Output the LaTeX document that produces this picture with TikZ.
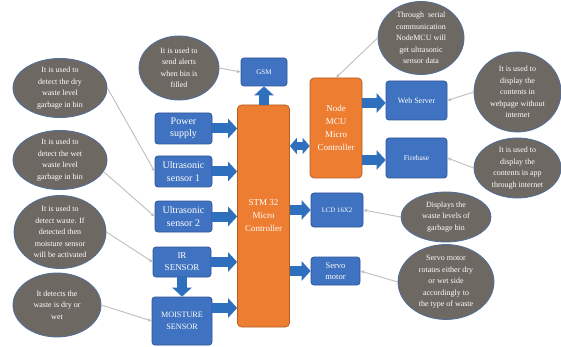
\documentclass[tikz,border=0pt]{standalone}
\usepackage{fontspec}
\setmainfont{Liberation Serif}
\usetikzlibrary{arrows.meta,shapes.geometric}
\definecolor{boxblue}{HTML}{3F72C0}
\definecolor{boxedge}{HTML}{2F5597}
\definecolor{arrblue}{HTML}{2E6FBE}
\definecolor{orng}{HTML}{ED7D31}
\definecolor{orngedge}{HTML}{B35E22}
\definecolor{ellgray}{HTML}{6E6863}
\definecolor{elledge}{HTML}{4F6E9A}
\definecolor{conngray}{HTML}{BEBEBE}
\begin{document}
\begin{tikzpicture}[x=1pt,y=-1pt,
  bbox/.style={draw=boxedge, fill=boxblue, rounded corners=3pt, line width=0.7pt, text=white, align=center, inner sep=0pt},
  obox/.style={draw=orngedge, fill=orng, rounded corners=4pt, line width=0.7pt, text=white, align=center, inner sep=0pt, font=\fontsize{9}{13}\selectfont},
  note/.style={ellipse, draw=elledge, fill=ellgray, line width=0.8pt, text=white, align=center, inner sep=0pt, font=\fontsize{8}{11.5}\selectfont},
  blk/.style={draw=arrblue, line width=10pt, -{Triangle[length=9pt,width=19pt]}},
  conn/.style={draw=conngray, line width=0.9pt, -{Stealth[length=4pt,width=3.5pt]}}]
\useasboundingbox[fill=white] (0,0) rectangle (561,347);

% blue boxes
\node[bbox, minimum width=46pt, minimum height=28pt, font=\fontsize{7}{9}\selectfont] (gsm) at (264,72) {GSM};
\node[bbox, minimum width=57pt, minimum height=31pt, font=\fontsize{10}{12.5}\selectfont] (power) at (183.5,128.5) {Power\\supply};
\node[bbox, minimum width=57pt, minimum height=31pt, font=\fontsize{10}{12.5}\selectfont] (us1) at (183.5,171.5) {Ultrasonic\\sensor 1};
\node[bbox, minimum width=57pt, minimum height=31pt, font=\fontsize{10}{12.5}\selectfont] (us2) at (183.5,216.5) {Ultrasonic\\sensor 2};
\node[bbox, minimum width=58pt, minimum height=30pt, font=\fontsize{9}{12}\selectfont] (ir) at (182,262) {IR\\SENSOR};
\node[bbox, minimum width=60pt, minimum height=48pt, font=\fontsize{8.2}{11.7}\selectfont] (moist) at (182,321) {MOISTURE\\SENSOR};
\node[bbox, minimum width=61pt, minimum height=39pt, font=\fontsize{8}{10}\selectfont] (web) at (416.5,100.5) {Web Server};
\node[bbox, minimum width=61pt, minimum height=40pt, font=\fontsize{7.5}{10}\selectfont] (fire) at (416.5,158) {Firebase};
\node[bbox, minimum width=52pt, minimum height=34pt, font=\fontsize{6.8}{9}\selectfont] (lcd) at (337,210) {LCD 16X2};
\node[bbox, minimum width=49pt, minimum height=28pt, font=\fontsize{8.5}{11}\selectfont] (servo) at (335.5,271) {Servo\\motor};

% orange controllers
\node[obox, minimum width=52pt, minimum height=222pt] (stm) at (263.5,216) {STM 32\\Micro\\Controller};
\node[obox, minimum width=52pt, minimum height=100pt] (node) at (336,128) {Node\\MCU\\Micro\\Controller};

% ellipses
\node[note, minimum width=80pt, minimum height=64pt] (e1) at (179,68) {It is used to\\send alerts\\when bin is\\filled};
\node[note, minimum width=94pt, minimum height=52pt] (e2) at (60,88) {It is used to\\detect the dry\\waste level\\garbage in bin};
\node[note, minimum width=94pt, minimum height=54pt] (e3) at (60,160) {It is used to\\detect the wet\\waste level\\garbage in bin};
\node[note, minimum width=92pt, minimum height=72pt] (e4) at (60,232) {It is used to\\detect waste. If\\detected then\\moisture sensor\\will be activated};
\node[note, minimum width=88pt, minimum height=64pt] (e5) at (57,305) {It detects the\\waste is dry or\\wet};
\node[note, minimum width=86pt, minimum height=68pt] (e6) at (421,38) {Through\ \ serial\\communication\\NodeMCU will\\get ultrasonic\\sensor data};
\node[note, minimum width=87pt, minimum height=80pt] (e7) at (517.5,92) {It is used to\\display the\\contents in\\webpage without\\internet};
\node[note, minimum width=87pt, minimum height=60pt] (e8) at (517.5,168) {It is used to\\display the\\contents in app\\through internet};
\node[note, minimum width=90pt, minimum height=50pt] (e9) at (446,217) {Displays the\\waste levels of\\garbage bin};
\node[note, minimum width=96pt, minimum height=68pt] (e10) at (446,282) {Servo motor\\rotates either dry\\or wet side\\accordingly to\\the type of waste};

% block arrows
\draw[blk] (power.east) -- (power.east -| stm.west);
\draw[blk] (us1.east) -- (us1.east -| stm.west);
\draw[blk] (us2.east) -- (us2.east -| stm.west);
\draw[blk] (ir.east) -- (ir.east -| stm.west);
\coordinate (mrow) at (200,308);
\draw[blk] (mrow -| moist.east) -- (mrow -| stm.west);
\draw[blk] (ir.south) -- (moist.north);
\draw[blk] (gsm.south |- stm.north) -- (gsm.south);
\coordinate (dbl) at (300,146);
\draw[draw=arrblue, line width=8pt, {Triangle[length=7pt,width=16pt]}-{Triangle[length=7pt,width=16pt]}] (dbl -| stm.east) -- (dbl -| node.west);
\coordinate (wrow) at (370,103);
\draw[blk] (wrow -| node.east) -- (wrow -| web.west);
\coordinate (frow) at (370,160);
\draw[blk] (frow -| node.east) -- (frow -| fire.west);
\draw[blk] (lcd.west -| stm.east) -- (lcd.west);
\draw[blk] (servo.west -| stm.east) -- (servo.west);

% thin connectors
\draw[conn] (e1.east) -- (gsm.west);
\draw[conn] (e2.east) -- (us1.west);
\draw[conn] (e3.-15) -- (us2.west);
\draw[conn] (e4.east) -- (ir.west);
\draw[conn] (e5.east) -- (moist.west);
\draw[conn] (e6.west) -- (node.north);
\draw[conn] (e7.west) -- (web.east);
\draw[conn] (e8.west) -- (fire.east);
\draw[conn] (e9.west) -- (lcd.east);
\draw[conn] (e10.west) -- (servo.east);
\end{tikzpicture}
\end{document}
